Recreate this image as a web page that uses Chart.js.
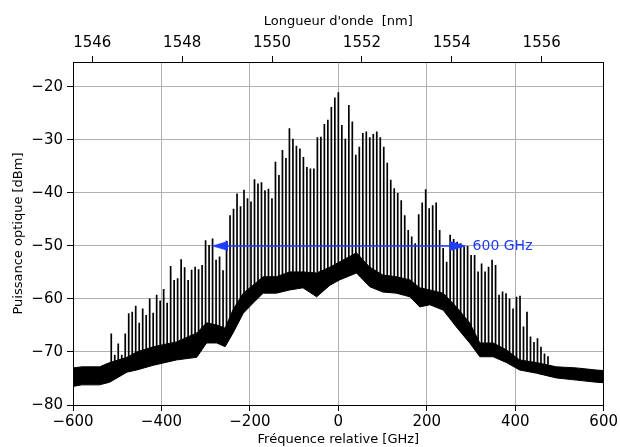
<!DOCTYPE html>
<html>
<head>
<meta charset="utf-8">
<script src="https://cdn.jsdelivr.net/npm/chart.js@4.4.0/dist/chart.umd.min.js"></script>
<style>
  html, body { margin: 0; padding: 0; background: #fff; }
  #wrap { width: 620px; height: 447px; }
</style>
</head>
<body>
<div id="wrap"><canvas id="spectrum"></canvas></div>
<script>
// comb line spacing [GHz] and number of the first visible line
const combSpacing = 7.9;
const firstLine = -65;

// peak power of each comb line [dBm], line -65 ... line +60
const combPeaks = [
    -66.5, -70.5, -68.4, -70.5, -66.5, -62.7, -62.4, -61.3, -64.5, -61.8,
    -63.0, -59.9, -62.6, -59.2, -60.3, -58.1, -60.7, -53.8, -56.4, -56.1,
    -52.5, -54.0, -56.4, -54.5, -53.9, -54.4, -53.6, -48.9, -49.8, -48.6,
    -52.6, -52.0, -54.6, -49.0, -44.2, -43.0, -40.1, -42.5, -39.4, -41.0,
    -41.6, -37.4, -38.2, -38.0, -39.5, -39.2, -41.0, -34.1, -36.6, -31.9,
    -33.4, -27.8, -29.8, -31.1, -31.6, -33.2, -35.1, -35.4, -35.4, -29.5,
    -29.4, -27.0, -26.2, -23.8, -22.0, -21.0,
    -27.2, -29.8, -23.4, -26.5, -32.8, -31.3, -28.7, -28.4, -29.5, -28.9,
    -28.4, -29.5, -31.3, -34.3, -37.5, -39.1, -40.0, -41.4, -44.2, -47.0,
    -48.2, -49.5, -44.0, -41.8, -39.3, -42.9, -42.3, -41.8, -47.0, -50.4,
    -53.0, -47.9, -48.7, -49.2, -49.5, -50.1, -50.0, -51.7, -51.7, -54.8,
    -53.3, -54.8, -53.9, -52.6, -53.6, -59.2, -58.6, -58.9, -59.9, -61.8,
    -59.6, -59.4, -65.2, -62.4, -67.1, -68.1, -67.4, -69.0, -70.3, -70.8
];

// noise floor: frequency [GHz], lower and upper edge of the band [dBm]
const floorFreq = [-600, -580, -540, -517, -478, -456, -418, -366, -320, -298,
    -275, -256, -238, -215, -193, -170, -140, -110, -80, -49,
    -19, 3, 41, 71, 101, 131, 162, 184, 207, 237,
    267, 297, 320, 350, 380, 410, 448, 493, 538, 583, 600];
const floorLow = [-76.5, -76.2, -76.2, -75.7, -73.8, -73.4, -72.5, -71.5, -71.0, -68.3,
    -68.3, -69.0, -66.4, -62.7, -60.8, -58.9, -58.9, -58.3, -57.9, -59.6,
    -57.4, -56.4, -55.1, -57.7, -58.7, -58.9, -59.6, -61.5, -61.1, -62.1,
    -65.3, -68.3, -70.9, -70.9, -72.0, -73.4, -74.0, -74.9, -75.3, -75.7, -75.8];
const floorHigh = [-73.0, -72.8, -72.8, -72.0, -71.0, -70.0, -69.0, -68.1, -66.4, -64.5,
    -64.9, -65.5, -62.0, -58.9, -57.4, -55.8, -55.8, -54.9, -54.9, -55.1,
    -54.0, -53.0, -51.3, -54.0, -55.5, -55.8, -56.4, -57.9, -58.3, -58.9,
    -61.5, -64.5, -68.3, -68.3, -69.6, -71.5, -72.0, -72.8, -73.0, -73.4, -73.5];

// the 600 GHz span arrow
const spanStart = -287;
const spanEnd = 290;
const spanLevel = -50;
const spanLabel = '600 GHz';

// axis ranges
const freqMin = -600, freqMax = 600;
const waveMin = 1545.57, waveMax = 1557.38;
const powerMin = -80, powerMax = -15.3;

const blue = 'rgb(30, 60, 255)';
const grey = '#b0b0b0';

// middle of the noise band at a given frequency (where a comb line starts)
function floorAt(f) {
    for (let i = 1; i < floorFreq.length; i++) {
        if (f <= floorFreq[i]) {
            const t = (f - floorFreq[i - 1]) / (floorFreq[i] - floorFreq[i - 1]);
            const lo = floorLow[i - 1] + t * (floorLow[i] - floorLow[i - 1]);
            const hi = floorHigh[i - 1] + t * (floorHigh[i] - floorHigh[i - 1]);
            return (lo + hi) / 2;
        }
    }
    return (floorLow[floorLow.length - 1] + floorHigh[floorHigh.length - 1]) / 2;
}

// one vertical stick per comb line, separated by gaps
const combPoints = [];
combPeaks.forEach((peak, i) => {
    const f = (firstLine + i) * combSpacing;
    combPoints.push({x: f, y: floorAt(f)}, {x: f, y: peak}, {x: f, y: null});
});

// arrow head image (points right)
function makeArrowHead() {
    const c = document.createElement('canvas');
    c.width = 17;
    c.height = 10;
    const g = c.getContext('2d');
    g.fillStyle = blue;
    g.beginPath();
    g.moveTo(0, 0);
    g.lineTo(17, 5);
    g.lineTo(0, 10);
    g.closePath();
    g.fill();
    return c;
}
const arrowHead = makeArrowHead();
const headOffset = 19; // GHz, half of the head length

function minusSign(v) {
    return String(v).replace('-', '\u2212');
}

const spanLabelPlugin = {
    id: 'spanLabel',
    afterDatasetsDraw(chart) {
        const ctx = chart.ctx;
        const x = chart.scales.x.getPixelForValue(spanEnd) + 6;
        const y = chart.scales.y.getPixelForValue(spanLevel);
        ctx.save();
        ctx.fillStyle = blue;
        ctx.font = '14px "DejaVu Sans"';
        ctx.textAlign = 'left';
        ctx.textBaseline = 'middle';
        ctx.fillText(spanLabel, x, y);
        ctx.restore();
    }
};

const tickFont = {family: 'DejaVu Sans', size: 15};
const titleFont = {family: 'DejaVu Sans', size: 13};

new Chart(document.getElementById('spectrum'), {
    type: 'line',
    data: {
        datasets: [
            {
                data: [{x: spanStart + headOffset, y: spanLevel}, {x: spanEnd - headOffset, y: spanLevel}],
                borderColor: blue,
                borderWidth: 1.6,
                pointStyle: arrowHead,
                pointRotation: [180, 0],
                pointRadius: 8,
                fill: false
            },
            {
                data: combPoints,
                borderColor: '#000',
                borderWidth: 1.7,
                pointRadius: 0,
                spanGaps: false,
                fill: false
            },
            {
                data: floorFreq.map((f, i) => ({x: f, y: floorHigh[i]})),
                borderColor: '#000',
                backgroundColor: '#000',
                borderWidth: 1,
                pointRadius: 0,
                fill: '+1'
            },
            {
                data: floorFreq.map((f, i) => ({x: f, y: floorLow[i]})),
                borderColor: '#000',
                borderWidth: 1,
                pointRadius: 0,
                fill: false
            }
        ]
    },
    options: {
        responsive: true,
        maintainAspectRatio: false,
        animation: false,
        layout: {padding: 0},
        plugins: {
            legend: {display: false},
            tooltip: {enabled: false}
        },
        scales: {
            x: {
                type: 'linear',
                position: 'bottom',
                min: freqMin,
                max: freqMax,
                afterFit: (s) => { s.height = 42; },
                ticks: {
                    stepSize: 200,
                    includeBounds: false,
                    autoSkip: false,
                    maxRotation: 0,
                    padding: 2,
                    color: '#000',
                    font: tickFont,
                    callback: minusSign
                },
                grid: {color: grey, tickColor: '#000', tickLength: 6, lineWidth: 1},
                border: {color: '#000', width: 1},
                title: {
                    display: true,
                    text: 'Fréquence relative [GHz]',
                    color: '#000',
                    font: titleFont,
                    padding: {top: 0, bottom: 0}
                }
            },
            x2: {
                type: 'linear',
                position: 'top',
                min: waveMin,
                max: waveMax,
                afterFit: (s) => { s.height = 62; },
                ticks: {
                    stepSize: 2,
                    includeBounds: false,
                    autoSkip: false,
                    maxRotation: 0,
                    padding: 4,
                    color: '#000',
                    font: tickFont,
                    callback: (v) => String(v)
                },
                grid: {drawOnChartArea: false, tickColor: '#000', tickLength: 6},
                border: {color: '#000', width: 1},
                title: {
                    display: true,
                    text: "Longueur d'onde  [nm]",
                    color: '#000',
                    font: titleFont,
                    padding: {top: 14, bottom: 0}
                }
            },
            y: {
                type: 'linear',
                position: 'left',
                min: powerMin,
                max: powerMax,
                afterFit: (s) => { s.width = 73; },
                ticks: {
                    stepSize: 10,
                    includeBounds: false,
                    padding: 4,
                    color: '#000',
                    font: tickFont,
                    callback: minusSign
                },
                grid: {color: grey, tickColor: '#000', tickLength: 6, lineWidth: 1},
                border: {color: '#000', width: 1},
                title: {
                    display: true,
                    text: 'Puissance optique [dBm]',
                    color: '#000',
                    font: titleFont,
                    padding: {top: 11, bottom: 0}
                }
            },
            yRight: {
                type: 'linear',
                position: 'right',
                min: powerMin,
                max: powerMax,
                afterFit: (s) => { s.width = 16; },
                ticks: {display: false},
                grid: {drawOnChartArea: false, drawTicks: false},
                border: {color: '#000', width: 1}
            }
        }
    },
    plugins: [spanLabelPlugin]
});
</script>
</body>
</html>
